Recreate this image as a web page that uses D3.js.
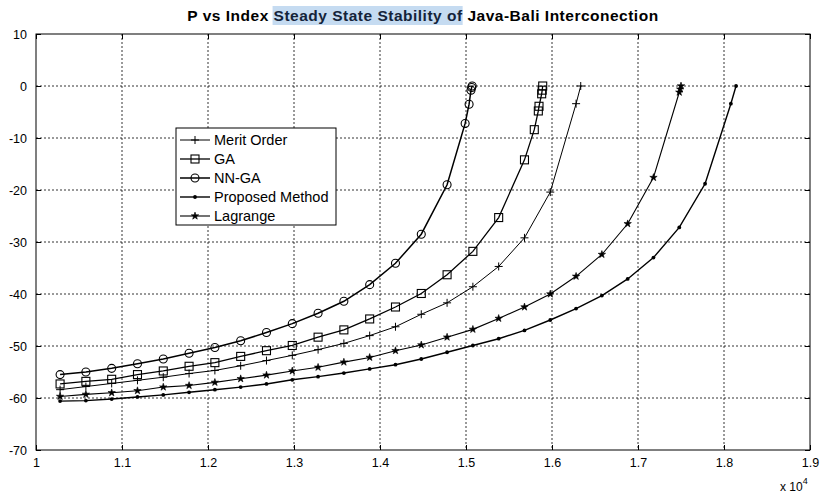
<!DOCTYPE html>
<html>
<head>
<meta charset="utf-8">
<script src="https://cdn.jsdelivr.net/npm/d3@7"></script>
<style>
  html, body { margin: 0; padding: 0; background: #fff; }
  svg { display: block; font-family: "Liberation Sans", Arial, Helvetica, sans-serif; }
</style>
</head>
<body>
<svg id="chart" width="822" height="494"></svg>
<script>
// ---------------- DATA ----------------
const titleParts = ["P vs Index ", "Steady State Stability of", " Java-Bali Interconection"];
const seriesNames = ["Merit Order", "GA", "NN-GA", "Proposed Method", "Lagrange"];
const xTicks = [10000, 11000, 12000, 13000, 14000, 15000, 16000, 17000, 18000, 19000];
const xTickLabels = ["1", "1.1", "1.2", "1.3", "1.4", "1.5", "1.6", "1.7", "1.8", "1.9"];
const yTicks = [10, 0, -10, -20, -30, -40, -50, -60, -70];
const yTickLabels = ["10", "0", "-10", "-20", "-30", "-40", "-50", "-60", "-70"];

const xMerit = [10280, 10580, 10880, 11180, 11480, 11780, 12080, 12380, 12680, 12980, 13280, 13580, 13880, 14180, 14480, 14780, 15080, 15380, 15680, 15980, 16280, 16334];
const yMerit = [-58.4, -57.8, -57.2, -56.6, -56.0, -55.3, -54.7, -53.8, -52.8, -51.8, -50.7, -49.5, -48.0, -46.3, -43.9, -41.7, -38.6, -34.7, -29.2, -20.4, -3.4, 0];

const xGA = [10280, 10580, 10880, 11180, 11480, 11780, 12080, 12380, 12680, 12980, 13280, 13580, 13880, 14180, 14480, 14780, 15080, 15380, 15680, 15794, 15841, 15849, 15880, 15886, 15892];
const yGA = [-57.3, -56.8, -56.4, -55.5, -54.8, -53.9, -53.2, -52.0, -50.9, -49.9, -48.3, -46.9, -44.8, -42.5, -39.9, -36.3, -31.8, -25.3, -14.2, -8.4, -4.8, -3.9, -1.5, -0.8, 0];

const xNNGA = [10280, 10580, 10880, 11180, 11480, 11780, 12080, 12380, 12680, 12980, 13280, 13580, 13880, 14180, 14480, 14780, 14990, 15036, 15058, 15066, 15072];
const yNNGA = [-55.5, -55.0, -54.3, -53.4, -52.5, -51.4, -50.3, -49.0, -47.4, -45.7, -43.7, -41.4, -38.2, -34.1, -28.5, -19.0, -7.2, -3.5, -0.8, -0.3, 0];

const xProposed = [10280, 10580, 10880, 11180, 11480, 11780, 12080, 12380, 12680, 12980, 13280, 13580, 13880, 14180, 14480, 14780, 15080, 15380, 15680, 15980, 16280, 16580, 16880, 17180, 17480, 17780, 18080, 18140];
const yProposed = [-60.6, -60.5, -60.2, -59.8, -59.4, -58.9, -58.4, -57.9, -57.3, -56.5, -55.9, -55.2, -54.4, -53.6, -52.5, -51.2, -49.9, -48.6, -47.0, -45.0, -42.8, -40.3, -37.1, -33.0, -27.2, -18.8, -3.4, 0];

const xLagrange = [10280, 10580, 10880, 11180, 11480, 11780, 12080, 12380, 12680, 12980, 13280, 13580, 13880, 14180, 14480, 14780, 15080, 15380, 15680, 15980, 16280, 16580, 16880, 17180, 17480, 17490, 17500];
const yLagrange = [-59.7, -59.3, -59.0, -58.6, -57.9, -57.6, -57.0, -56.3, -55.6, -54.8, -54.1, -53.1, -52.2, -50.9, -49.8, -48.3, -46.8, -44.7, -42.5, -40.0, -36.6, -32.4, -26.5, -17.6, -1.2, -0.6, 0];

// ---------------- CHART ----------------
const svg = d3.select("#chart");
const L = 36, R = 810, T = 34, B = 450;
const x = d3.scaleLinear().domain([10000, 19000]).range([L, R]);
const y = d3.scaleLinear().domain([-70, 10]).range([B, T]);

// grid
const grid = svg.append("g").attr("stroke", "#000").attr("stroke-width", 0.8).attr("stroke-dasharray", "2,2");
xTicks.slice(1, -1).forEach(t => grid.append("line").attr("x1", x(t)).attr("x2", x(t)).attr("y1", T).attr("y2", B));
yTicks.slice(1, -1).forEach(t => grid.append("line").attr("x1", L).attr("x2", R).attr("y1", y(t)).attr("y2", y(t)));

// axes (ticks inward on all sides)
const fmtX = d => xTickLabels[xTicks.indexOf(d)];
const fmtY = d => yTickLabels[yTicks.indexOf(d)];
const axB = svg.append("g").attr("transform", `translate(0,${B})`)
  .call(d3.axisBottom(x).tickValues(xTicks).tickFormat(fmtX).tickSizeInner(-5).tickSizeOuter(0).tickPadding(8));
const axT = svg.append("g").attr("transform", `translate(0,${T})`)
  .call(d3.axisTop(x).tickValues(xTicks).tickFormat("").tickSizeInner(-5).tickSizeOuter(0));
const axL = svg.append("g").attr("transform", `translate(${L},0)`)
  .call(d3.axisLeft(y).tickValues(yTicks).tickFormat(fmtY).tickSizeInner(-5).tickSizeOuter(0).tickPadding(9));
const axR = svg.append("g").attr("transform", `translate(${R},0)`)
  .call(d3.axisRight(y).tickValues(yTicks).tickFormat("").tickSizeInner(-5).tickSizeOuter(0));
[axB, axT, axL, axR].forEach(a => {
  a.select(".domain").remove();
  a.selectAll("line").attr("stroke", "#000");
  a.selectAll("text").attr("font-size", 12.5).attr("fill", "#000")
    .attr("font-family", "'Liberation Sans', Arial, sans-serif");
});

svg.append("rect").attr("x", L).attr("y", T).attr("width", R - L).attr("height", B - T)
  .attr("fill", "none").attr("stroke", "#000").attr("stroke-width", 1);

// exponent label
const ex = svg.append("text").attr("x", 780).attr("y", 491).attr("font-size", 12).attr("fill", "#000");
ex.append("tspan").text("x 10");
ex.append("tspan").attr("dy", -7).attr("font-size", 9).text("4");

// series
const markers = {
  "Merit Order": { type: "plus" },
  "GA": { type: "square" },
  "NN-GA": { type: "circle" },
  "Proposed Method": { type: "dot" },
  "Lagrange": { type: "star" }
};
const seriesData = [
  { name: "Merit Order", xs: xMerit, ys: yMerit, w: 1.0 },
  { name: "GA", xs: xGA, ys: yGA, w: 1.3 },
  { name: "NN-GA", xs: xNNGA, ys: yNNGA, w: 1.5 },
  { name: "Proposed Method", xs: xProposed, ys: yProposed, w: 1.4 },
  { name: "Lagrange", xs: xLagrange, ys: yLagrange, w: 1.1 }
];

function drawMarker(g, type, cx, cy) {
  if (type === "plus") {
    g.append("path").attr("d", `M${cx - 4},${cy}H${cx + 4}M${cx},${cy - 4}V${cy + 4}`)
      .attr("stroke", "#000").attr("stroke-width", 1).attr("fill", "none");
  } else if (type === "square") {
    g.append("rect").attr("x", cx - 4).attr("y", cy - 4).attr("width", 8).attr("height", 8)
      .attr("fill", "none").attr("stroke", "#000").attr("stroke-width", 1.1);
  } else if (type === "circle") {
    g.append("circle").attr("cx", cx).attr("cy", cy).attr("r", 4)
      .attr("fill", "none").attr("stroke", "#000").attr("stroke-width", 1.1);
  } else if (type === "dot") {
    g.append("circle").attr("cx", cx).attr("cy", cy).attr("r", 1.9).attr("fill", "#000");
  } else if (type === "star") {
    g.append("path").attr("transform", `translate(${cx},${cy})`)
      .attr("d", d3.symbol().type(d3.symbolStar).size(17)())
      .attr("fill", "#000").attr("stroke", "#000").attr("stroke-width", 0.6);
  }
}

const line = d3.line().x(d => x(d[0])).y(d => y(d[1]));
seriesData.forEach(s => {
  const pts = s.xs.map((v, i) => [v, s.ys[i]]);
  const g = svg.append("g");
  g.append("path").datum(pts).attr("d", line).attr("fill", "none")
    .attr("stroke", "#000").attr("stroke-width", s.w);
  pts.forEach(p => drawMarker(g, markers[s.name].type, x(p[0]), y(p[1])));
});

// legend
const lg = svg.append("g");
const lgX = 176, lgY = 128, lgW = 160, lgH = 97, rowH = 19;
lg.append("rect").attr("x", lgX).attr("y", lgY).attr("width", lgW).attr("height", lgH)
  .attr("fill", "#fff").attr("stroke", "#000").attr("stroke-width", 1);
seriesNames.forEach((n, i) => {
  const cy = lgY + 12 + i * rowH;
  const s = seriesData.find(d => d.name === n);
  lg.append("line").attr("x1", lgX + 4).attr("x2", lgX + 34).attr("y1", cy).attr("y2", cy)
    .attr("stroke", "#000").attr("stroke-width", s.w);
  drawMarker(lg, markers[n].type, lgX + 19, cy);
  lg.append("text").attr("x", lgX + 38).attr("y", cy + 5).attr("font-size", 14.5).attr("fill", "#000").text(n);
});

// title with highlighted middle part
const tg = svg.append("g");
const title = tg.append("text").attr("x", 423).attr("y", 21).attr("text-anchor", "middle")
  .attr("font-size", 15.5).attr("letter-spacing", 0.5).attr("font-weight", "bold").attr("fill", "#000");
titleParts.forEach((p, i) => title.append("tspan").attr("xml:space", "preserve").attr("fill", i === 1 ? "#14233a" : "#000").text(p));
const tnode = title.node();
const start = titleParts[0].length;
const sx = tnode.getStartPositionOfChar(start).x;
const sw = tnode.getSubStringLength(start, titleParts[1].length);
tg.insert("rect", "text").attr("x", sx - 1).attr("y", 6).attr("width", sw + 1).attr("height", 19).attr("fill", "#c5dbf1");
</script>
</body>
</html>
